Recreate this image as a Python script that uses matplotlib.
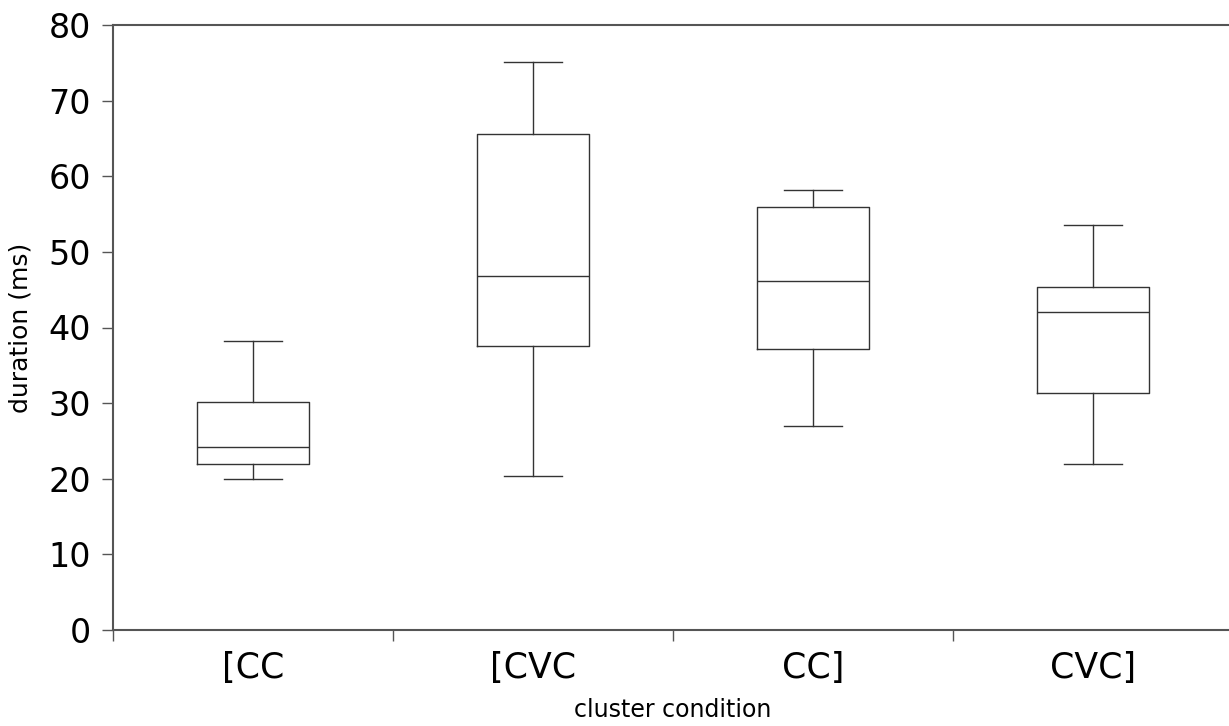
import matplotlib
matplotlib.use('Agg')
import matplotlib.pyplot as plt

# box plot values (ms)
categories = ['[CC', '[CVC', 'CC]', 'CVC]']
whisker_low = [20.0, 20.3, 27.0, 21.9]
q1 = [22.0, 37.6, 37.1, 31.4]
median = [24.2, 46.8, 46.1, 42.0]
q3 = [30.1, 65.6, 55.9, 45.3]
whisker_high = [38.2, 75.1, 58.2, 53.5]

stats = []
for i, name in enumerate(categories):
    stats.append({'label': name, 'whislo': whisker_low[i], 'q1': q1[i], 'med': median[i],
                  'q3': q3[i], 'whishi': whisker_high[i], 'fliers': []})

fig = plt.figure(figsize=(12.29, 7.26), dpi=100)
ax = fig.add_axes([113 / 1229, 96 / 726, 1120 / 1229, 605 / 726])

line = dict(color='#333333', linewidth=1.0)
ax.bxp(stats, positions=[1, 2, 3, 4], widths=0.4, capwidths=0.21, showfliers=False,
       boxprops=line, whiskerprops=line, capprops=line,
       medianprops=dict(color='#333333', linewidth=1.0))

ax.set_xlim(0.5, 4.5)
ax.set_ylim(0, 80)
ax.set_yticks(range(0, 81, 10))

ax.set_xticks([1, 2, 3, 4])
ax.set_xticklabels(categories)
ax.set_xticks([0.5, 1.5, 2.5, 3.5, 4.5], minor=True)
ax.tick_params(axis='x', which='major', length=0, pad=15, labelsize=25)
ax.tick_params(axis='x', which='minor', length=8, width=1, color='#555555', direction='out')
ax.tick_params(axis='y', length=8, width=1, color='#555555', pad=8, labelsize=24)

for s in ax.spines.values():
    s.set_color('#555555')
    s.set_linewidth(1.5)

ax.set_ylabel('duration (ms)', fontsize=18)
ax.set_xlabel('cluster condition', fontsize=17)
ax.yaxis.set_label_coords(-0.072, 0.5)
ax.xaxis.set_label_coords(0.5, -0.113)

fig.savefig('out.png', dpi=100)
